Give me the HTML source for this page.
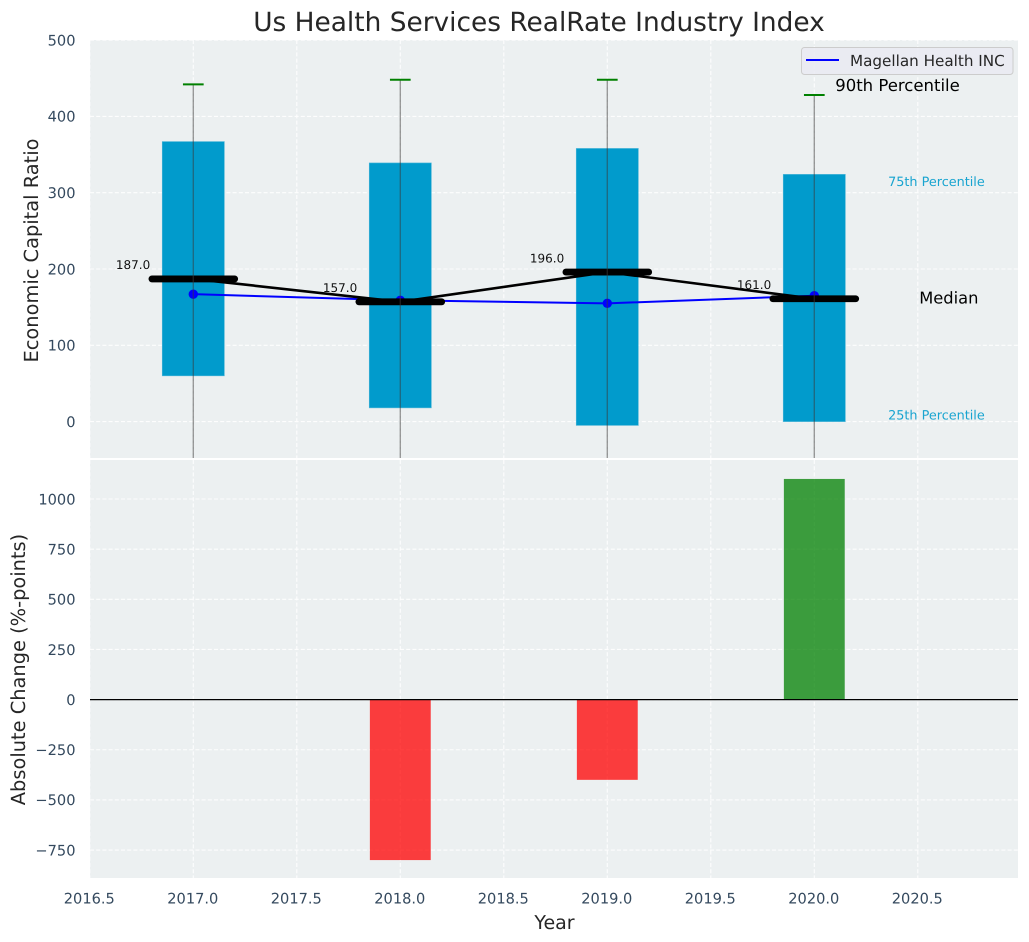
<!DOCTYPE html>
<html lang="en">
<head>
<meta charset="utf-8">
<title>Us Health Services RealRate Industry Index</title>
<style>
html,body{margin:0;padding:0;background:#fff;width:1029px;height:942px;overflow:hidden}
svg{display:block;font-family:"DejaVu Sans","Liberation Sans",sans-serif;text-rendering:geometricPrecision}
</style>
</head>
<body>
<svg id="chart" xmlns="http://www.w3.org/2000/svg" width="1029" height="942" viewBox="0 0 1029 942">
<defs>
<clipPath id="clip-top"><rect x="90" y="40" width="928" height="418"/></clipPath>
<clipPath id="clip-bottom"><rect x="90" y="460" width="928" height="418"/></clipPath>
</defs>
</svg>
<script>
const years = [2017, 2018, 2019, 2020];
const p90 = [442, 448, 448, 428];
const p75 = [367, 339, 358, 324];
const medians = [187, 157, 196, 161];
const p25 = [60, 18, -5, 0];
const p10 = [-100, -120, -140, -110];
const company = [167, 159, 155, 165];
const changes = [null, -800, -400, 1100];
const xTicks = [2016.5, 2017, 2017.5, 2018, 2018.5, 2019, 2019.5, 2020, 2020.5];
const topTicks = [0, 100, 200, 300, 400, 500];
const bottomTicks = [-750, -500, -250, 0, 250, 500, 750, 1000];

const svg = document.getElementById('chart');
const NS = 'http://www.w3.org/2000/svg';
const left = 90, right = 1018, topA = 40, topB = 458, botA = 460, botB = 878;
const x = v => 193.3 + (v - 2017) * 207;
const yTop = v => 421.6 - v * 0.763;
const yBot = v => 699.6 - v * 0.2006;
const tickColor = '#34495e';

function add(parent, tag, attrs, text) {
  const el = document.createElementNS(NS, tag);
  for (const k in attrs) el.setAttribute(k, attrs[k]);
  if (text !== undefined) el.textContent = text;
  parent.appendChild(el);
  return el;
}
function fmt(v) { return String(v).replace('-', '\u2212'); }
function fmtX(v) { return v.toFixed(1); }

/* axes backgrounds */
const topBg = add(svg, 'rect', {x: left, y: topA, width: right - left, height: topB - topA, fill: '#ecf0f1'});


const botBg = add(svg, 'rect', {x: left, y: botA, width: right - left, height: botB - botA, fill: '#ecf0f1'});



/* grids */
const gridAttrs = {stroke: '#ffffff', 'stroke-width': 1.1, 'stroke-dasharray': '4 2.2', opacity: 0.9};
const gridTop = add(svg, 'g', gridAttrs);


const gridBot = add(svg, 'g', gridAttrs);


xTicks.forEach(t => {
  const a = add(gridTop, 'line', {x1: x(t), x2: x(t), y1: topA, y2: topB});
  
  
  const b = add(gridBot, 'line', {x1: x(t), x2: x(t), y1: botA, y2: botB});
  
  
});
topTicks.forEach(t => {
  const a = add(gridTop, 'line', {x1: left, x2: right, y1: yTop(t), y2: yTop(t)});
  
  
});
bottomTicks.forEach(t => {
  const a = add(gridBot, 'line', {x1: left, x2: right, y1: yBot(t), y2: yBot(t)});
  
  
});

/* top panel */
const topPlot = add(svg, 'g', {'clip-path': 'url(#clip-top)'});



years.forEach((yr, i) => {
  const bar = add(topPlot, 'rect', {
    x: x(yr - 0.15), width: x(yr + 0.15) - x(yr - 0.15),
    y: yTop(p75[i]), height: yTop(p25[i]) - yTop(p75[i]),
    fill: '#019bcc', stroke: '#4db5d8', 'stroke-width': 0.6
  });
  
  
});

const compPts = years.map((yr, i) => x(yr) + ',' + yTop(company[i])).join(' ');
const compLine = add(topPlot, 'polyline', {points: compPts, fill: 'none', stroke: '#0000ff', 'stroke-width': 2});


years.forEach((yr, i) => {
  const dot = add(topPlot, 'circle', {cx: x(yr), cy: yTop(company[i]), r: 4.7, fill: '#0000ff'});
  
  
});

const medPts = years.map((yr, i) => x(yr) + ',' + yTop(medians[i])).join(' ');
const medLine = add(topPlot, 'polyline', {points: medPts, fill: 'none', stroke: '#000', 'stroke-width': 2.6});



years.forEach((yr, i) => {
  const med = add(topPlot, 'line', {
    x1: x(yr - 0.2), x2: x(yr + 0.2), y1: yTop(medians[i]), y2: yTop(medians[i]),
    stroke: '#000', 'stroke-width': 6.8, 'stroke-linecap': 'round'
  });
  
  
  const whisk = add(topPlot, 'line', {
    x1: x(yr), x2: x(yr), y1: yTop(p90[i]), y2: yTop(p10[i]),
    stroke: '#3a3a3a', 'stroke-opacity': 0.5, 'stroke-width': 1.4
  });
  
  
  const cap = add(topPlot, 'line', {
    x1: x(yr - 0.05), x2: x(yr + 0.05), y1: yTop(p90[i]), y2: yTop(p90[i]),
    stroke: '#008000', 'stroke-width': 2
  });
  
  
  const lab = add(svg, 'text', {
    x: x(yr - 0.208), y: yTop(medians[i]) - 9.7, 'text-anchor': 'end',
    'font-size': 12, fill: '#111'
  }, medians[i].toFixed(1));
  
  
});

/* annotations for the last year */
const last = years.length - 1;
const lastYear = years[last];
const n90 = add(svg, 'text', {x: x(lastYear + 0.101), y: yTop(p90[last]) - 4, 'font-size': 16.5, fill: '#000'}, '90th Percentile');


const n75 = add(svg, 'text', {x: x(lastYear + 0.59), y: yTop(p75[last]) + 11.5, 'text-anchor': 'middle', 'font-size': 12.8, fill: '#019bcc', 'fill-opacity': 0.9}, '75th Percentile');


const n25 = add(svg, 'text', {x: x(lastYear + 0.59), y: yTop(p25[last]) - 2.2, 'text-anchor': 'middle', 'font-size': 12.8, fill: '#019bcc', 'fill-opacity': 0.9}, '25th Percentile');


const nMed = add(svg, 'text', {x: x(lastYear + 0.65), y: yTop(medians[last]) + 4.5, 'text-anchor': 'middle', 'font-size': 16.3, fill: '#000'}, 'Median');



/* bottom panel */
const botPlot = add(svg, 'g', {'clip-path': 'url(#clip-bottom)'});


years.forEach((yr, i) => {
  const v = changes[i];
  if (v === null) return;
  const y1 = yBot(Math.max(v, 0)), y2 = yBot(Math.min(v, 0));
  const bar = add(botPlot, 'rect', {
    x: x(yr - 0.147), width: x(yr + 0.147) - x(yr - 0.147),
    y: y1, height: y2 - y1,
    fill: v >= 0 ? '#008000' : '#ff0000', 'fill-opacity': 0.75
  });
  
  
});
const zero = add(botPlot, 'line', {x1: left, x2: right, y1: yBot(0), y2: yBot(0), stroke: '#000', 'stroke-width': 1.2});



/* tick labels */
topTicks.forEach(t => {
  const el = add(svg, 'text', {x: 75.5, y: yTop(t) + 5.3, 'text-anchor': 'end', 'font-size': 14.6, fill: tickColor}, fmt(t));
  
  
});
bottomTicks.forEach(t => {
  const el = add(svg, 'text', {x: 75.5, y: yBot(t) + 5.3, 'text-anchor': 'end', 'font-size': 14.6, fill: tickColor}, fmt(t));
  
  
});
xTicks.forEach(t => {
  const el = add(svg, 'text', {x: x(t) - 0.5, y: 903.5, 'text-anchor': 'middle', 'font-size': 14.6, fill: tickColor}, fmtX(t));
  
  
});

/* titles */
const title = add(svg, 'text', {x: 539, y: 31, 'text-anchor': 'middle', 'font-size': 26.4, fill: '#262626'}, 'Us Health Services RealRate Industry Index');


const xTitle = add(svg, 'text', {x: 554.5, y: 929, 'text-anchor': 'middle', 'font-size': 19, fill: '#262626'}, 'Year');


const yTitle1 = add(svg, 'text', {transform: 'translate(38,250.5) rotate(-90)', 'text-anchor': 'middle', 'font-size': 19.4, fill: '#262626'}, 'Economic Capital Ratio');


const yTitle2 = add(svg, 'text', {transform: 'translate(25,669.5) rotate(-90)', 'text-anchor': 'middle', 'font-size': 19.4, fill: '#262626'}, 'Absolute Change (%-points)');



/* legend */
const legend = add(svg, 'g', {});


const legBox = add(legend, 'rect', {x: 801.5, y: 47.5, width: 211.5, height: 27, rx: 3, fill: '#eaeaf2', 'fill-opacity': 0.85, stroke: '#cccccc', 'stroke-width': 1});


const legLine = add(legend, 'line', {x1: 806, x2: 839, y1: 60, y2: 60, stroke: '#0000ff', 'stroke-width': 2});


const legText = add(legend, 'text', {x: 850, y: 66, 'font-size': 15.2, fill: '#262626'}, 'Magellan Health INC');


</script>
</body>
</html>
